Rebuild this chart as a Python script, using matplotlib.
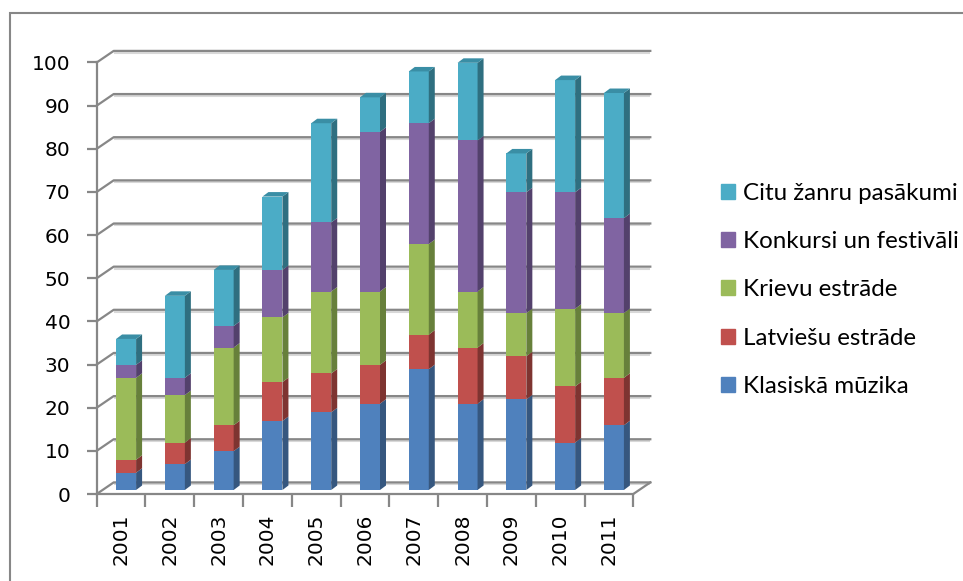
import numpy as np
import matplotlib.pyplot as plt
from matplotlib.patches import Polygon, Patch, Rectangle

years = ['2001', '2002', '2003', '2004', '2005', '2006', '2007', '2008', '2009', '2010', '2011']
klasiska = [4, 6, 9, 16, 18, 20, 28, 20, 21, 11, 15]
latviesu = [3, 5, 6, 9, 9, 9, 8, 13, 10, 13, 11]
krievu = [19, 11, 18, 15, 19, 17, 21, 13, 10, 18, 15]
konkursi = [3, 4, 5, 11, 16, 37, 28, 35, 28, 27, 22]
citi = [6, 19, 13, 17, 23, 8, 12, 18, 9, 26, 29]
names = ['Klasiskā mūzika', 'Latviešu estrāde', 'Krievu estrāde',
         'Konkursi un festivāli', 'Citu žanru pasākumi']

front_cols = ['#4F81BD', '#C0504D', '#9BBB59', '#8064A2', '#4BACC6']
side_cols = ['#36577F', '#7E3431', '#67803B', '#53416C', '#2F6F80']
top_col = '#3A8EA5'
grid_col = '#878787'

W, H = 963, 581
fig = plt.figure(figsize=(W / 100, H / 100), dpi=100)
ax = fig.add_axes([96.7 / W, (H - 494) / H, 536.6 / W, 431.5 / H])
ax.set_xlim(-0.5, 10.5)
ax.set_ylim(0, 100)

# data units per pixel
px = 11 / 536.6
py = 100 / 431.5
dx, dy = 17 * px, 11.6 * py  # depth of the 3d box

# back wall + side wall grid
for v in range(0, 101, 10):
    ax.plot([-0.5 + dx, 10.5 + dx], [v + dy - 2 * py] * 2, color='#d8d8d8', lw=1.5,
            clip_on=False, zorder=1, solid_capstyle='butt')
    ax.plot([-0.5, -0.5 + dx, 10.5 + dx], [v, v + dy, v + dy], color=grid_col, lw=1.6,
            clip_on=False, zorder=1.5)
ax.plot([10.5, 10.5 + dx], [0, dy], color=grid_col, lw=1.6, clip_on=False, zorder=1.5)

# stacked 3d-ish bars
x = np.arange(len(years))
xb = x + 5 * px
bw = 20 * px
sx, sy = 6 * px, 4.5 * py
lift = 4 * py
series = [klasiska, latviesu, krievu, konkursi, citi]
bottom = np.zeros(len(years)) + lift
for i, vals in enumerate(series):
    vals = np.array(vals, dtype=float)
    ax.bar(xb, vals, bw, bottom=bottom, color=front_cols[i], zorder=3, clip_on=False)
    for j in range(len(years)):
        r = xb[j] + bw / 2
        b, t = bottom[j], bottom[j] + vals[j]
        ax.add_patch(Polygon([(r, b), (r + sx, b + sy), (r + sx, t + sy), (r, t)],
                             closed=True, fc=side_cols[i], ec='none', zorder=3, clip_on=False))
        if i == len(series) - 1:
            l = xb[j] - bw / 2
            ax.add_patch(Polygon([(l, t), (l + sx, t + sy), (r + sx, t + sy), (r, t)],
                                 closed=True, fc=top_col, ec='none', zorder=3, clip_on=False))
    bottom = bottom + vals

# axes
for s in ['top', 'right']:
    ax.spines[s].set_visible(False)
for s in ['left', 'bottom']:
    ax.spines[s].set_color(grid_col)
    ax.spines[s].set_linewidth(1.6)
    ax.spines[s].set_zorder(4)
ax.set_yticks(range(0, 101, 10))
ax.tick_params(axis='y', direction='out', length=7, width=1.6, color=grid_col,
               labelsize=14.5, pad=12)
ax.set_xticks(np.arange(-0.5, 11, 1))
ax.set_xticklabels([])
ax.tick_params(axis='x', which='major', direction='out', length=9, width=1.6, color=grid_col)
ax.set_xticks(x, minor=True)
ax.set_xticklabels(years, minor=True, rotation=90)
ax.tick_params(axis='x', which='minor', length=0, labelsize=14.5, pad=14)
ax.patch.set_visible(False)

# legend
handles = [Patch(color=front_cols[i], label=names[i]) for i in range(4, -1, -1)]
fig.legend(handles=handles, loc='center left', bbox_to_anchor=(721 / W, (H - 290) / H),
           frameon=False, prop={'family': 'Lato', 'size': 17.4}, borderpad=0, borderaxespad=0,
           handlelength=0.58, handleheight=0.58, handletextpad=0.33, labelspacing=1.12)

# chart border
fig.add_artist(Rectangle((10 / W, -0.1), 1.2, (H - 13) / H + 0.1, fill=False,
                         ec=grid_col, lw=1.5, transform=fig.transFigure))

fig.savefig('out.png', dpi=100)
